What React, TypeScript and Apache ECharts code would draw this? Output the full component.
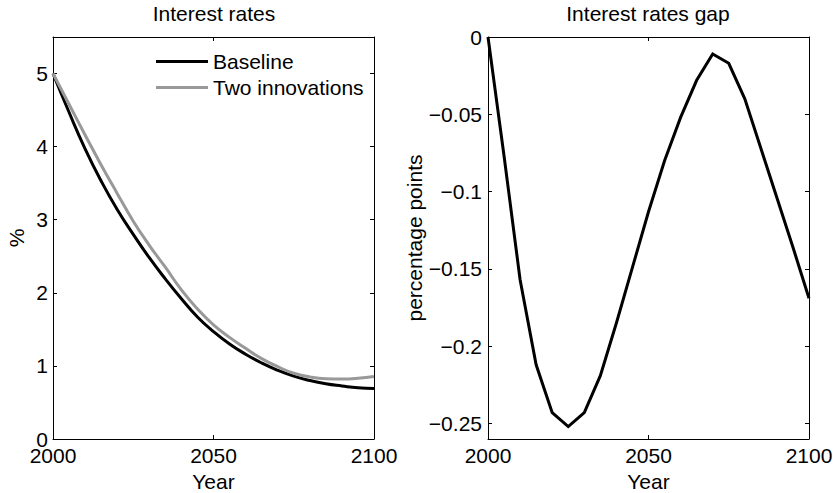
import React, { useEffect, useRef } from "react";
import * as echarts from "echarts";

// 5-year steps, 2000..2100
const years = [
  2000, 2005, 2010, 2015, 2020, 2025, 2030, 2035, 2040, 2045, 2050,
  2055, 2060, 2065, 2070, 2075, 2080, 2085, 2090, 2095, 2100,
];
const baseline = [
  5.0, 4.47, 3.97, 3.53, 3.14, 2.8, 2.48, 2.19, 1.92, 1.67, 1.47,
  1.3, 1.16, 1.04, 0.94, 0.86, 0.8, 0.755, 0.725, 0.7, 0.69,
];
const twoInnovations = [
  5.0, 4.58, 4.16, 3.75, 3.36, 2.98, 2.65, 2.35, 2.04, 1.78, 1.56,
  1.39, 1.24, 1.1, 0.99, 0.9, 0.85, 0.825, 0.82, 0.83, 0.855,
];
const rateGap = [
  0, -0.077, -0.157, -0.212, -0.243, -0.252, -0.243, -0.219, -0.185, -0.149, -0.113,
  -0.08, -0.052, -0.028, -0.011, -0.017, -0.04, -0.072, -0.104, -0.136, -0.169,
];
const gapTicks = [0, -0.05, -0.1, -0.15, -0.2, -0.25];

const FONT = '"Liberation Sans", Arial, Helvetica, sans-serif';
const FS = 21;

const pairs = (ys: number[]) => years.map((y, i) => [y, ys[i]]);

const tick = { show: true, inside: true, length: 4, lineStyle: { color: "#000", width: 1 } };
const line = { show: true, onZero: false, lineStyle: { color: "#000", width: 1 } };
const label = { color: "#000", fontSize: FS, fontFamily: FONT };

const App: React.FC = () => {
  const chartRef = useRef<HTMLDivElement | null>(null);

  useEffect(() => {
    document.body.style.margin = "0";
    const dom = chartRef.current;
    if (!dom) return;
    const chart = echarts.init(dom, undefined, { renderer: "svg" });

    const yearAxis = (grid: number, top: boolean) => ({
      type: "value",
      gridIndex: grid,
      position: top ? "top" : "bottom",
      min: 2000,
      max: 2100,
      interval: 50,
      axisLine: line,
      axisTick: tick,
      splitLine: { show: false },
      axisLabel: top
        ? { show: false }
        : { ...label, margin: 6, formatter: (v: number) => String(v) },
      name: top ? "" : "Year",
      nameLocation: "middle",
      nameGap: 25,
      nameTextStyle: label,
    });

    const gapFmt = (v: number) =>
      v === 0 ? "0" : String(+v.toFixed(2)).replace("-", "\u2212");

    const titleStyle = { fontSize: FS, fontWeight: "normal", color: "#000", fontFamily: FONT };

    chart.setOption({
      animation: false,
      textStyle: { fontFamily: FONT },
      title: [
        { text: "Interest rates", left: 214, top: 3, padding: 0, textAlign: "center", textStyle: titleStyle },
        { text: "Interest rates gap", left: 648, top: 3, padding: 0, textAlign: "center", textStyle: titleStyle },
      ],
      legend: {
        orient: "vertical",
        left: 156,
        top: 51,
        padding: 0,
        itemWidth: 52,
        itemHeight: 3,
        itemGap: 5,
        textStyle: { ...label },
        data: [
          { name: "Baseline", icon: "rect" },
          { name: "Two innovations", icon: "rect" },
        ],
      },
      grid: [
        { left: 53, right: 459, top: 37, bottom: 54, outerBoundsMode: "none" },
        { left: 488, right: 24, top: 37, bottom: 54, outerBoundsMode: "none" },
      ],
      xAxis: [yearAxis(0, false), yearAxis(0, true), yearAxis(1, false), yearAxis(1, true)],
      yAxis: [
        {
          type: "value",
          gridIndex: 0,
          position: "left",
          min: 0,
          max: 5.5,
          interval: 1,
          axisLine: line,
          axisTick: tick,
          splitLine: { show: false },
          axisLabel: { ...label, margin: 5, showMaxLabel: false },
          name: "%",
          nameLocation: "middle",
          nameGap: 26,
          nameTextStyle: label,
        },
        {
          type: "value",
          gridIndex: 0,
          position: "right",
          min: 0,
          max: 5.5,
          interval: 1,
          axisLine: line,
          axisTick: tick,
          splitLine: { show: false },
          axisLabel: { show: false },
        },
        {
          type: "value",
          gridIndex: 1,
          position: "left",
          min: -0.26,
          max: 0,
          axisLine: line,
          axisTick: { ...tick, customValues: gapTicks },
          splitLine: { show: false },
          axisLabel: { ...label, margin: 6, customValues: gapTicks, formatter: gapFmt },
          name: "percentage points",
          nameLocation: "middle",
          nameGap: 62,
          nameTextStyle: label,
        },
        {
          type: "value",
          gridIndex: 1,
          position: "right",
          min: -0.26,
          max: 0,
          axisLine: line,
          axisTick: { ...tick, customValues: gapTicks },
          splitLine: { show: false },
          axisLabel: { show: false },
        },
      ],
      series: [
        {
          name: "Baseline",
          type: "line",
          xAxisIndex: 0,
          yAxisIndex: 0,
          data: pairs(baseline),
          smooth: true,
          symbol: "none",
          lineStyle: { color: "#000", width: 3 },
          itemStyle: { color: "#000" },
          z: 3,
        },
        {
          name: "Two innovations",
          type: "line",
          xAxisIndex: 0,
          yAxisIndex: 0,
          data: pairs(twoInnovations),
          smooth: true,
          symbol: "none",
          lineStyle: { color: "#999", width: 3 },
          itemStyle: { color: "#999" },
          z: 4,
        },
        {
          name: "Gap",
          type: "line",
          xAxisIndex: 2,
          yAxisIndex: 2,
          data: pairs(rateGap),
          smooth: false,
          symbol: "none",
          lineStyle: { color: "#000", width: 3, join: "miter" },
          itemStyle: { color: "#000" },
        },
      ],
    });

    return () => {
      chart.dispose();
    };
  }, []);

  return (
    <div
      ref={chartRef}
      style={{ position: "fixed", left: 0, top: 0, width: "833px", height: "493px", background: "#fff" }}
    ></div>
  );
};

export default App;
